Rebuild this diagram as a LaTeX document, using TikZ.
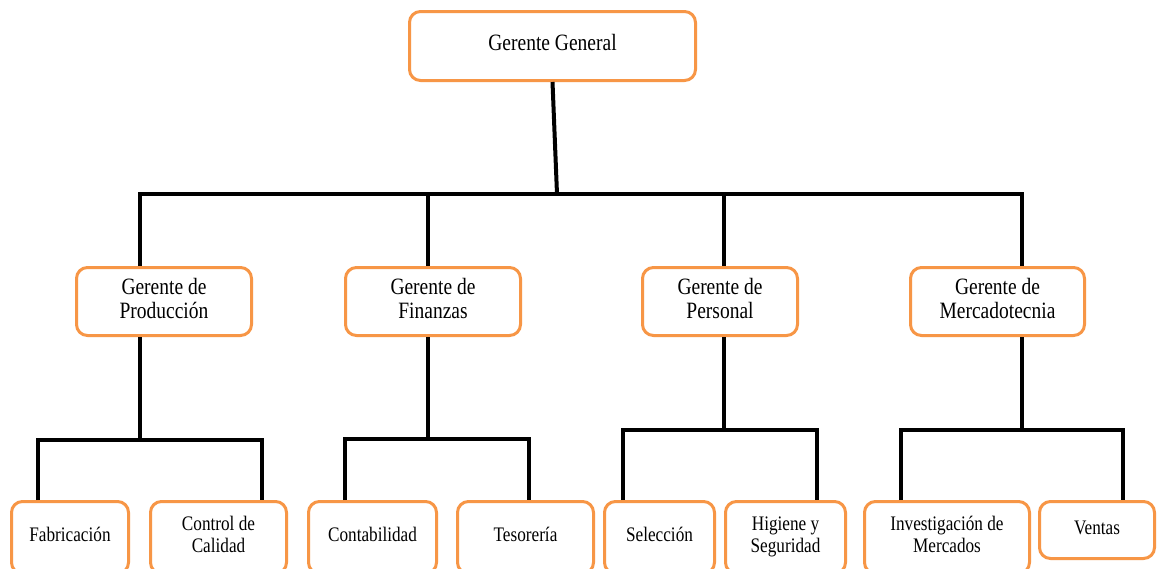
\documentclass[tikz,border=0pt]{standalone}
\usepackage{fontspec}
\setmainfont{Liberation Serif}
\usepackage{graphicx}
\definecolor{boxorange}{HTML}{F79646}
\newcommand{\vstretch}[1]{\scalebox{1}[1.2]{\begin{tabular}{@{}c@{}}#1\end{tabular}}}
\tikzset{
  orgbox/.style={draw=boxorange, line width=3pt, rounded corners=11pt, fill=white,
    inner sep=0pt, align=center, text=black},
  bigtext/.style={font=\fontsize{19.5}{20}\selectfont},
  smalltext/.style={font=\fontsize{17.2}{18.3}\selectfont},
  conn/.style={draw=black, line width=4pt, line join=miter}
}
\begin{document}
\begin{tikzpicture}[x=1pt,y=-1pt]
\useasboundingbox (0,0) rectangle (1158,568);
\fill[white] (0,0) rectangle (1158,568);
\clip (0,0) rectangle (1158,568);

% junction coordinates
\coordinate (bT) at (557,194);
\coordinate (x1) at (140,194);
\coordinate (x2) at (428,194);
\coordinate (x3) at (724,194);
\coordinate (x4) at (1022,194);

\coordinate (p0) at (140,440);
\coordinate (pl) at (38,440);
\coordinate (pr) at (262,440);
\coordinate (f0) at (428,439);
\coordinate (fl) at (345,439);
\coordinate (fr) at (529,439);
\coordinate (s0) at (724,430);
\coordinate (sl) at (623,430);
\coordinate (sr) at (817,430);
\coordinate (m0) at (1022,430);
\coordinate (ml) at (901,430);
\coordinate (mr) at (1123,430);

% nodes
\node[orgbox, bigtext, minimum width=286pt, minimum height=69pt] (gg) at (552.5,46) {\vstretch{Gerente General}};

\node[orgbox, bigtext, minimum width=175pt, minimum height=68pt] (prod) at (164,301.5) {\vstretch{Gerente de\\Producción}};
\node[orgbox, bigtext, minimum width=175pt, minimum height=68pt] (fin) at (433,301.5) {\vstretch{Gerente de\\Finanzas}};
\node[orgbox, bigtext, minimum width=155pt, minimum height=68pt] (pers) at (720,301.5) {\vstretch{Gerente de\\Personal}};
\node[orgbox, bigtext, minimum width=174pt, minimum height=68pt] (merc) at (997.5,301.5) {\vstretch{Gerente de\\Mercadotecnia}};

\node[orgbox, smalltext, minimum width=117pt, minimum height=72pt] (fab) at (70,537.5) {\vstretch{Fabricación}};
\node[orgbox, smalltext, minimum width=136pt, minimum height=72pt] (cal) at (218.5,537.5) {\vstretch{Control de\\Calidad}};
\node[orgbox, smalltext, minimum width=128pt, minimum height=72pt] (cont) at (372.5,537.5) {\vstretch{Contabilidad}};
\node[orgbox, smalltext, minimum width=136pt, minimum height=72pt] (tes) at (525.5,537.5) {\vstretch{Tesorería}};
\node[orgbox, smalltext, minimum width=110pt, minimum height=72pt] (sel) at (659.5,537.5) {\vstretch{Selección}};
\node[orgbox, smalltext, minimum width=120pt, minimum height=72pt] (hig) at (785.5,537.5) {\vstretch{Higiene y\\Seguridad}};
\node[orgbox, smalltext, minimum width=165pt, minimum height=72pt] (inv) at (947,537.5) {\vstretch{Investigación de\\Mercados}};
\node[orgbox, smalltext, minimum width=115pt, minimum height=57pt] (ven) at (1097,530) {\vstretch{Ventas}};

% connectors, top level
\draw[conn] (gg.south) -- (bT);
\draw[conn] (prod.north -| x1) |- (x4) -- (merc.north -| x4);
\draw[conn] (x2) -- (fin.north -| x2);
\draw[conn] (x3) -- (pers.north -| x3);

% connectors, lower level
\draw[conn] (prod.south -| p0) -- (p0);
\draw[conn] (fab.north -| pl) |- (pr) -- (cal.north -| pr);
\draw[conn] (fin.south -| f0) -- (f0);
\draw[conn] (cont.north -| fl) |- (fr) -- (tes.north -| fr);
\draw[conn] (pers.south -| s0) -- (s0);
\draw[conn] (sel.north -| sl) |- (sr) -- (hig.north -| sr);
\draw[conn] (merc.south -| m0) -- (m0);
\draw[conn] (inv.north -| ml) |- (mr) -- (ven.north -| mr);
\end{tikzpicture}
\end{document}
